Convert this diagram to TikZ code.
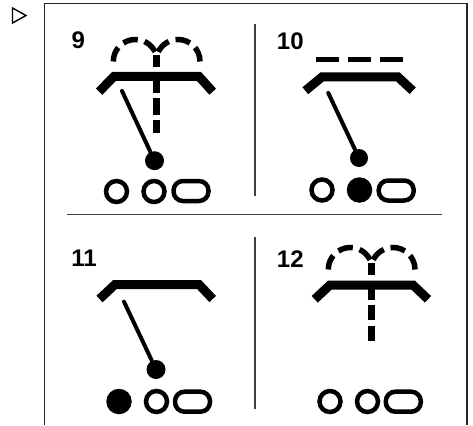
\documentclass[tikz,border=0pt]{standalone}
\usepackage{fontspec}
\setmainfont{Liberation Sans}
\usetikzlibrary{positioning}
\begin{document}
\begin{tikzpicture}[x=1pt, y=-1pt,
    framing/.style={black!85, line width=1.5pt},
    divider/.style={black!75, line width=1.2pt},
    bar/.style={black, line width=9pt, miter limit=10},
    rod/.style={black, line width=4pt, line cap=round},
    beamline/.style={black, line width=7pt},
    archline/.style={black, line width=5.5pt, dash pattern=on 15pt off 7pt},
    flatline/.style={black, line width=5.6pt},
    ball/.style={circle, fill=black, inner sep=0pt, minimum size=19pt},
    lampoff/.style={circle, draw=black, line width=4.5pt, fill=white, inner sep=0pt, minimum size=21pt},
    lampon/.style={circle, fill=black, inner sep=0pt, minimum size=25.5pt},
    slot/.style={rectangle, draw=black, line width=4.5pt, rounded corners=9.5pt, inner sep=0pt, minimum width=35pt, minimum height=20pt},
    number/.style={font=\fontsize{24}{24}\selectfont\bfseries, text=black, inner sep=0pt}]
  \useasboundingbox (0,0) rectangle (473,425);
  \draw[black, line width=1.4pt] (12.5,8) -- (26,15.5) -- (12.5,23) -- cycle;
  \draw[framing] (44.5,425) -- (44.5,3.3) -- (467,3.3) -- (467,425);
  \draw[divider] (67,214.7) -- (442,214.7);
  \draw[divider] (255,24) -- (255,196);
  \draw[divider] (255,237) -- (255,409);
  % 9
  \node[number] (n9) at (78.3,40.5) {9};
  \draw[archline] (113.3,61.5) arc[start angle=180, end angle=335, radius=22];
  \draw[archline] (200,61.5) arc[start angle=0, end angle=-155, radius=22];
  \draw[beamline] (156,55) -- (156,67);
  \draw[beamline] (156,76) -- (156,93);
  \draw[beamline] (156,98) -- (156,115);
  \draw[beamline] (156,120) -- (156,133);
  \draw[bar] (99,91.7) -- (114,76.5) -- (199,76.5) -- (212.7,91.7);
  \node[ball] (ball9) at (154.5,160.7) {};
  \coordinate (top9) at (122,91);
  \draw[rod] (top9) -- (ball9);
  \node[lampoff] (a9) at (116.5,191.5) {};
  \node[lampoff] (b9) at (154,191.5) {};
  \node[slot] (c9) at (191,191) {};
  % 10
  \node[number] (n10) at (290.3,41.7) {10};
  \draw[flatline] (316,59.5) -- (339,59.5);
  \draw[flatline] (348,59.5) -- (371,59.5);
  \draw[flatline] (380,59.5) -- (403,59.5);
  \draw[bar] (305.3,90.7) -- (322,77) -- (398,77) -- (412.7,90.7);
  \node[ball, minimum size=18pt] (ball10) at (359,158) {};
  \coordinate (top10) at (328.3,93);
  \draw[rod] (top10) -- (ball10);
  \node[lampoff] (a10) at (322,190) {};
  \node[lampon] (b10) at (359.5,190) {};
  \node[slot] (c10) at (396.2,190.5) {};
  % 11
  \node[number] (n11) at (84,258.3) {11};
  \draw[bar] (99.5,299) -- (115,284.5) -- (199,284.5) -- (212.7,299);
  \node[ball] (ball11) at (156,369.5) {};
  \coordinate (top11) at (124,301.7);
  \draw[rod] (top11) -- (ball11);
  \node[lampon] (a11) at (119,401.5) {};
  \node[lampoff] (b11) at (156.5,401.5) {};
  \node[slot] (c11) at (192.5,401.7) {};
  % 12
  \node[number] (n12) at (290.3,259.3) {12};
  \draw[archline] (328.3,269.5) arc[start angle=180, end angle=335, radius=22];
  \draw[archline] (415,269.5) arc[start angle=0, end angle=-155, radius=22];
  \draw[beamline] (371.7,262.7) -- (371.7,275);
  \draw[beamline] (371.7,285) -- (371.7,300);
  \draw[beamline] (371.7,305) -- (371.7,320);
  \draw[beamline] (371.7,325.7) -- (371.7,340.7);
  \draw[bar] (314.7,299.3) -- (330,285) -- (413,285) -- (428,299.3);
  \node[lampoff] (a12) at (330,401.5) {};
  \node[lampoff] (b12) at (367.5,401.5) {};
  \node[slot] (c12) at (403.3,401.7) {};
\end{tikzpicture}
\end{document}
